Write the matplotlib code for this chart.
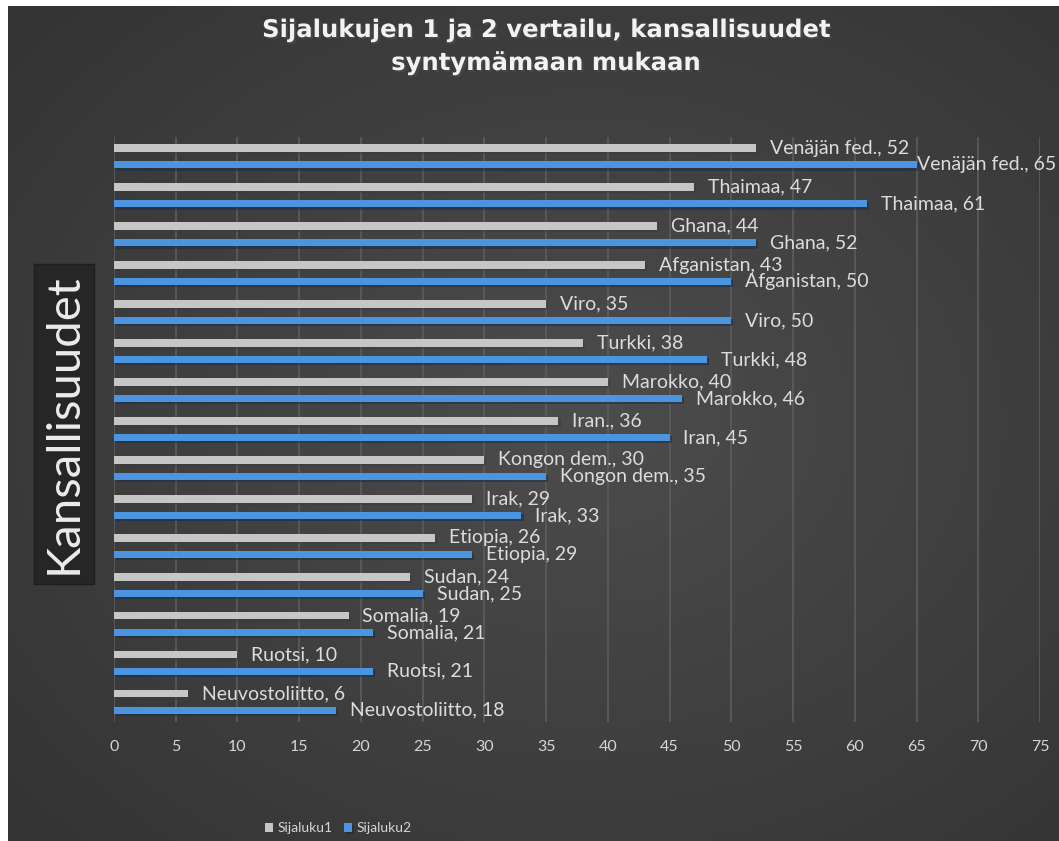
import numpy as np
import matplotlib.pyplot as plt
import matplotlib.patheffects as pe

# Data (top to bottom as in the chart)
maat1 = ["Venäjän fed.", "Thaimaa", "Ghana", "Afganistan", "Viro", "Turkki", "Marokko",
         "Iran.", "Kongon dem.", "Irak", "Etiopia", "Sudan", "Somalia", "Ruotsi", "Neuvostoliitto"]
maat2 = ["Venäjän fed.", "Thaimaa", "Ghana", "Afganistan", "Viro", "Turkki", "Marokko",
         "Iran", "Kongon dem.", "Irak", "Etiopia", "Sudan", "Somalia", "Ruotsi", "Neuvostoliitto"]
sijaluku1 = [52, 47, 44, 43, 35, 38, 40, 36, 30, 29, 26, 24, 19, 10, 6]
sijaluku2 = [65, 61, 52, 50, 50, 48, 46, 45, 35, 33, 29, 25, 21, 21, 18]
x_ticks = np.arange(0, 80, 5)

plt.rcParams['font.family'] = ['Lato', 'DejaVu Sans']

W, H = 1059, 841
fig = plt.figure(figsize=(W / 100, H / 100), dpi=100)
fig.patch.set_facecolor('white')

# background with radial gradient
bg = fig.add_axes([8 / W, 0, 1 - 8 / W, 1 - 6 / H])
yy, xx = np.mgrid[0:1:300j, 0:1:400j]
r = np.sqrt(((xx - 0.55) / 0.9) ** 2 + ((yy - 0.5) / 0.9) ** 2)
shade = 0.30 - 0.12 * np.clip(r, 0, 1)
bg.imshow(np.dstack([shade] * 3), aspect='auto', extent=[0, 1, 0, 1], origin='lower')
bg.axis('off')

# plot area
top_px, bot_px = 137, 721.5
ax = fig.add_axes([114 / W, 1 - bot_px / H, 926 / W, (bot_px - top_px) / H])
ax.set_facecolor('none')

n = len(maat1)
ypos = np.arange(n)[::-1]
off = 0.213
h = 0.19
shadow = [pe.SimplePatchShadow(offset=(1.5, -1.5), alpha=0.5), pe.Normal()]
b1 = ax.barh(ypos + off, sijaluku1, height=h, color='#c6c6c6', label='Sijaluku1',
             path_effects=shadow, zorder=3)
b2 = ax.barh(ypos - off, sijaluku2, height=h, color='#4a94e0', label='Sijaluku2',
             path_effects=shadow, zorder=3)

ax.set_xlim(0, 75)
ax.set_ylim(-0.5, n - 0.5)
ax.set_xticks(x_ticks)
ax.set_yticks([])
ax.grid(axis='x', color='#5c5c5c', linewidth=1.2, zorder=0)
for s in ax.spines.values():
    s.set_visible(False)
ax.tick_params(axis='x', length=0, pad=13, labelsize=11.5, labelcolor='#d6d6d6')

labels = []
for y, v, m in zip(ypos + off, sijaluku1, maat1):
    labels.append(ax.annotate(f"{m}, {v}", (v, y), xytext=(10, 0), textcoords='offset points',
                              va='center', ha='left', fontsize=14, color='#dcdcdc', zorder=4))
for y, v, m in zip(ypos - off, sijaluku2, maat2):
    labels.append(ax.annotate(f"{m}, {v}", (v, y), xytext=(10, 0), textcoords='offset points',
                              va='center', ha='left', fontsize=14, color='#dcdcdc', zorder=4))

# keep labels inside the figure
fig.canvas.draw()
rend = fig.canvas.get_renderer()
for t in labels:
    bb = t.get_window_extent(rend)
    if bb.x1 > W - 3:
        shift = (bb.x1 - (W - 3)) * 72 / 100
        t.set_position((10 - shift, 0))

# title
title_fx = [pe.withSimplePatchShadow(offset=(1.5, -1.5), alpha=0.8)]
fig.text(545 / W, 1 - 30 / H, "Sijalukujen 1 ja 2 vertailu, kansallisuudet", ha='center', va='center',
         fontsize=17.5, fontweight='bold', color='#f2f2f2', family='DejaVu Sans',
         path_effects=title_fx)
fig.text(545 / W, 1 - 63 / H, "syntymämaan mukaan", ha='center', va='center',
         fontsize=17.5, fontweight='bold', color='#f2f2f2', family='DejaVu Sans',
         path_effects=title_fx)

# y axis title in a dark box
fig.text(64 / W, 1 - 424 / H, "Kansallisuudet", rotation=90, ha='center', va='center',
         fontsize=34, color='#ececec',
         bbox=dict(boxstyle='square,pad=0.2', facecolor='#262626', edgecolor='#1e1e1e'))

leg = ax.legend(loc='center', bbox_to_anchor=(338 / W, 1 - 828 / H), bbox_transform=fig.transFigure,
                ncol=2, frameon=False, fontsize=10, labelcolor='#d6d6d6',
                handlelength=0.6, handleheight=0.6, handletextpad=0.3, columnspacing=0.8)

fig.savefig('out.png', dpi=100, facecolor=fig.get_facecolor())
